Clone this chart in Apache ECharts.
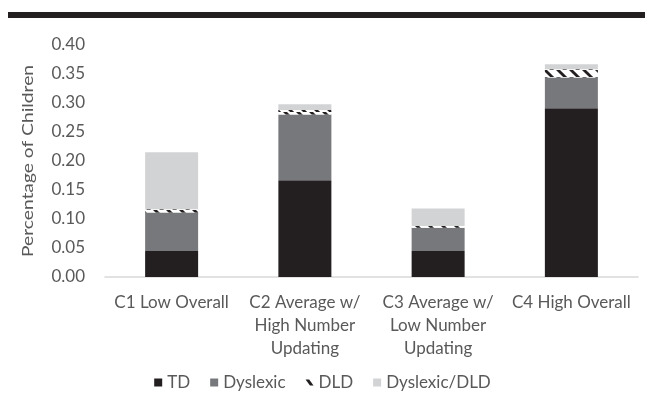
<!DOCTYPE html>
<html>
<head>
<meta charset="utf-8">
<script src="https://cdn.jsdelivr.net/npm/echarts@6/dist/echarts.min.js"></script>
<style>
  html, body { margin: 0; padding: 0; background: #ffffff; }
  #chart { width: 645px; height: 403px; }
</style>
</head>
<body>
<div id="chart"></div>
<script>
// Cluster profiles: share of children in each diagnostic group (stacked)
const categories = [
  'C1 Low Overall',
  'C2 Average w/\nHigh Number\nUpdating',
  'C3 Average w/\nLow Number\nUpdating',
  'C4 High Overall'
];
const tdValues        = [0.045, 0.167, 0.045, 0.291];
const dyslexicValues  = [0.066, 0.113, 0.040, 0.053];
const dldValues       = [0.006, 0.008, 0.003, 0.014];
const dysDldValues    = [0.098, 0.010, 0.030, 0.009];
const yTicks = { min: 0, max: 0.4, step: 0.05 };
const yAxisTitle = 'Percentage of Children';

const TEXT = '#595959';
const FONT = 'Lato';

// white fill with dark diagonal stripes for the DLD segments
function stripePattern() {
  const w = 13, h = 7;
  const c = document.createElement('canvas');
  c.width = w; c.height = h;
  const ctx = c.getContext('2d');
  ctx.fillStyle = '#ffffff';
  ctx.fillRect(0, 0, w, h);
  ctx.strokeStyle = '#231f20';
  ctx.lineWidth = 2.8;
  for (let k = -1; k <= 1; k++) {
    ctx.beginPath();
    ctx.moveTo(k * w - 2, -1);
    ctx.lineTo(k * w + w * 0.55, h + 1);
    ctx.stroke();
  }
  return c;
}

const chart = echarts.init(document.getElementById('chart'), null, { renderer: 'canvas' });

const barBase = { type: 'bar', stack: 'total', barWidth: 53 };

chart.setOption({
  animation: false,
  backgroundColor: '#ffffff',
  textStyle: { fontFamily: FONT },
  graphic: [
    {
      // heavy rule across the top of the figure
      type: 'rect',
      shape: { x: 8, y: 12, width: 637, height: 6 },
      style: { fill: '#231f20' },
      silent: true
    },
    {
      // vertical axis title, drawn slightly elongated
      type: 'text',
      x: 28,
      y: 161,
      rotation: Math.PI / 2,
      scaleX: 1.2,
      style: {
        text: yAxisTitle,
        font: '16px Lato',
        fill: TEXT,
        textAlign: 'center',
        textVerticalAlign: 'middle'
      },
      silent: true
    }
  ],
  grid: { left: 105, right: 7, top: 45, bottom: 126 },
  legend: {
    bottom: 7,
    left: 'center',
    itemWidth: 8,
    itemHeight: 8,
    itemGap: 20,
    textStyle: { color: TEXT, fontSize: 17, fontFamily: FONT },
    data: [
      { name: 'TD', icon: 'rect' },
      { name: 'Dyslexic', icon: 'rect' },
      { name: 'DLD', icon: 'path://M0,0 L5,0 L11,8 L6,8 Z', itemStyle: { color: '#231f20' } },
      { name: 'Dyslexic/DLD', icon: 'rect' }
    ]
  },
  xAxis: {
    type: 'category',
    data: categories,
    axisTick: { show: false },
    axisLine: { lineStyle: { color: '#d9d9d9', width: 1.5 } },
    axisLabel: {
      color: TEXT,
      fontSize: 17,
      fontFamily: FONT,
      lineHeight: 23,
      margin: 14,
      interval: 0
    }
  },
  yAxis: {
    type: 'value',
    min: yTicks.min,
    max: yTicks.max,
    interval: yTicks.step,
    axisLine: { show: false },
    axisTick: { show: false },
    splitLine: { show: false },
    axisLabel: {
      color: TEXT,
      fontSize: 17,
      fontFamily: FONT,
      margin: 20,
      formatter: v => v.toFixed(2)
    }
  },
  series: [
    Object.assign({}, barBase, { name: 'TD', data: tdValues, itemStyle: { color: '#231f20' } }),
    Object.assign({}, barBase, { name: 'Dyslexic', data: dyslexicValues, itemStyle: { color: '#77787b' } }),
    Object.assign({}, barBase, { name: 'DLD', data: dldValues,
      itemStyle: { color: { image: stripePattern(), repeat: 'repeat' } } }),
    Object.assign({}, barBase, { name: 'Dyslexic/DLD', data: dysDldValues, itemStyle: { color: '#d1d3d4' } })
  ]
});
</script>
</body>
</html>
